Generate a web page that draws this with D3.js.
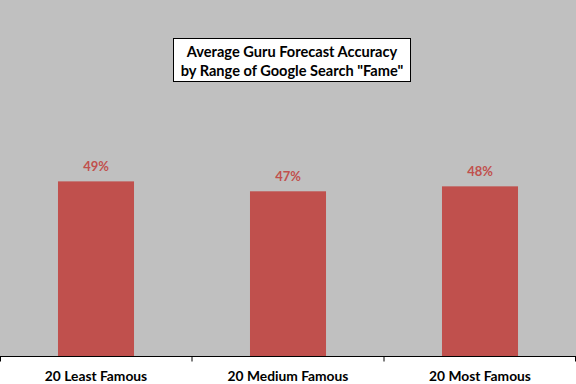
<!DOCTYPE html>
<html><head><meta charset="utf-8">
<script src="https://cdn.jsdelivr.net/npm/d3@7"></script>
<style>body{margin:0;background:#fff}svg{display:block}</style>
</head><body>
<script>
const categories = ["20 Least Famous", "20 Medium Famous", "20 Most Famous"];
const accuracy = [0.494, 0.466, 0.480];
const valueLabels = ["49%", "47%", "48%"];
const titleLines = ["Average Guru Forecast Accuracy", "by Range of Google Search \"Fame\""];

const W = 576, H = 384, base = 356.5;
const font = "Lato, 'Open Sans', sans-serif";
const svg = d3.select("body").append("svg").attr("width", W).attr("height", H);
svg.append("rect").attr("width", W).attr("height", H).attr("fill", "#fff");
svg.append("rect").attr("x", 0).attr("y", 0).attr("width", W).attr("height", base).attr("fill", "#C0C0C0");

const x = d3.scaleBand().domain(categories).range([0, W]).paddingInner(0.604).paddingOuter(0.302);
const y = d3.scaleLinear().domain([0, 1]).range([base, 2]);

svg.selectAll("rect.bar").data(categories).join("rect").attr("class", "bar")
  .attr("x", d => x(d)).attr("width", x.bandwidth())
  .attr("y", (d, i) => y(accuracy[i])).attr("height", (d, i) => base - y(accuracy[i]))
  .attr("fill", "#C0504D");

svg.selectAll("text.val").data(categories).join("text").attr("class", "val")
  .attr("x", d => x(d) + x.bandwidth() / 2).attr("y", (d, i) => y(accuracy[i]) - 10)
  .attr("text-anchor", "middle").attr("font-family", font).attr("font-weight", "bold")
  .attr("font-size", 13).attr("fill", "#C0504D").text((d, i) => valueLabels[i]);

// axis
const ax = svg.append("g").attr("transform", `translate(0,${base})`)
  .call(d3.axisBottom(x).tickSize(0).tickPadding(14.5));
ax.select(".domain").remove();
ax.selectAll("text").attr("font-family", font).attr("font-weight", "bold").attr("font-size", 13.8).attr("fill", "#000");
svg.append("line").attr("x1", 0).attr("x2", W).attr("y1", base).attr("y2", base).attr("stroke", "#000").attr("stroke-width", 1);
const bounds = d3.range(categories.length + 1).map(i => Math.min(W - 0.5, Math.max(0.5, i * x.step())));
svg.selectAll("line.tk").data(bounds).join("line").attr("class", "tk")
  .attr("x1", d => d).attr("x2", d => d).attr("y1", base).attr("y2", base + 5)
  .attr("stroke", "#000");

// title
svg.append("rect").attr("x", 173.5).attr("y", 38.5).attr("width", 237).attr("height", 43)
  .attr("fill", "#fff").attr("stroke", "#000");
svg.selectAll("text.title").data(titleLines).join("text").attr("class", "title")
  .attr("x", 292).attr("y", (d, i) => 57 + i * 18.5).attr("text-anchor", "middle")
  .attr("font-family", font).attr("font-weight", "bold").attr("font-size", 14.6).attr("fill", "#000")
  .text(d => d);
</script>
</body></html>
